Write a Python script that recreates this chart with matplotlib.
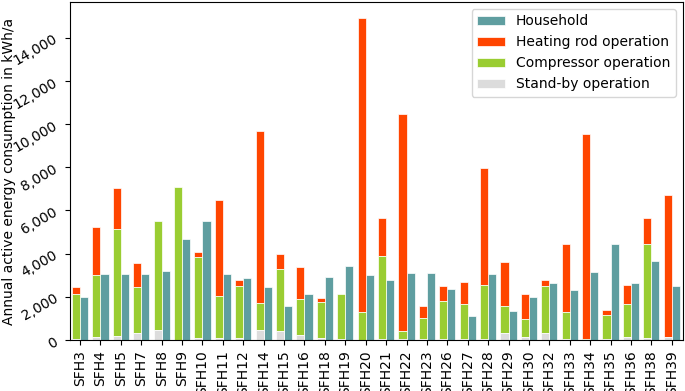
import matplotlib.pyplot as plt
import matplotlib.ticker as mticker
import numpy as np

# houses and annual consumption in kWh/a
houses = ["SFH3", "SFH4", "SFH5", "SFH7", "SFH8", "SFH9", "SFH10", "SFH11", "SFH12", "SFH14",
          "SFH15", "SFH16", "SFH18", "SFH19", "SFH20", "SFH21", "SFH22", "SFH23", "SFH26", "SFH27",
          "SFH28", "SFH29", "SFH30", "SFH32", "SFH33", "SFH34", "SFH35", "SFH36", "SFH38", "SFH39"]

standby = [75, 140, 185, 340, 460, 0, 90, 110, 90, 475,
           415, 245, 90, 45, 30, 50, 75, 75, 75, 45,
           75, 310, 125, 325, 75, 30, 75, 155, 90, 140]
compressor = [2045, 2860, 4965, 2135, 5030, 7075, 3755, 1950, 2415, 1230,
              2875, 1660, 1695, 2075, 1290, 3840, 340, 970, 1725, 1615,
              2475, 1260, 875, 2180, 1235, 20, 1075, 1505, 4370, 0]
heating_rod = [325, 2215, 1880, 1075, 10, 0, 215, 4445, 265, 7985,
               680, 1480, 185, 0, 13580, 1770, 10045, 525, 720, 1045,
               5415, 2060, 1140, 295, 3135, 9470, 265, 880, 1200, 6565]
household = [2015, 3075, 3045, 3045, 3200, 4660, 5490, 3075, 2890, 2445,
             1585, 2140, 2920, 3415, 3030, 2770, 3105, 3090, 2370, 1120,
             3075, 1370, 1985, 2660, 2320, 3170, 4430, 2660, 3660, 2490]

x = np.arange(len(houses))
w = 0.4
standby = np.array(standby)
compressor = np.array(compressor)
heating_rod = np.array(heating_rod)

fig = plt.figure(figsize=(6.85, 3.91), dpi=100)
ax = fig.add_axes([0.102, 0.13, 0.895, 0.865])

ax.bar(x + w / 2, household, w, color="cadetblue", edgecolor="white", linewidth=0.5, label="Household")
ax.bar(x - w / 2, heating_rod, w, bottom=standby + compressor, color="orangered",
       edgecolor="white", linewidth=0.5, label="Heating rod operation")
ax.bar(x - w / 2, compressor, w, bottom=standby, color="yellowgreen",
       edgecolor="white", linewidth=0.5, label="Compressor operation")
ax.bar(x - w / 2, standby, w, color="gainsboro", edgecolor="white", linewidth=0.5,
       label="Stand-by operation")

ax.set_xticks(x)
ax.set_xticklabels(houses, rotation=90)
ax.set_xlim(-0.5, 29.55)
ax.yaxis.set_major_formatter(mticker.StrMethodFormatter("{x:,.0f}"))
ax.set_yticks(np.arange(0, 15000, 2000))
plt.setp(ax.get_yticklabels(), rotation=30)
ax.set_ylabel("Annual active energy consumption in kWh/a")
ax.yaxis.set_label_coords(-0.088, 0.5)
ax.legend(loc="upper right")

fig.savefig("out.png")
